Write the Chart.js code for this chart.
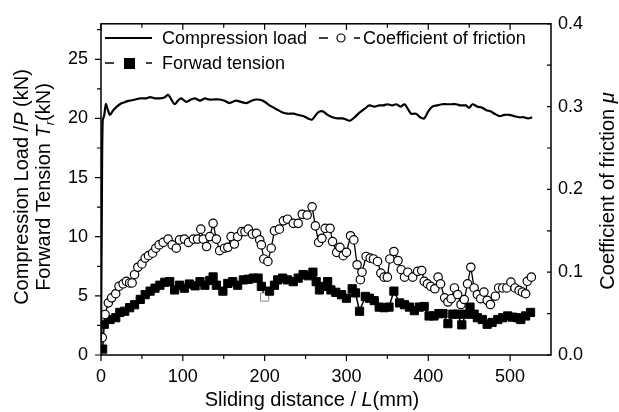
<!DOCTYPE html>
<html>
<head>
<meta charset="utf-8">
<script src="https://cdn.jsdelivr.net/npm/chart.js@4/dist/chart.umd.min.js"></script>
<style>
  body { margin: 0; background: #fff; }
  #wrap { width: 619px; height: 412px; }
</style>
</head>
<body>
<div id="wrap"><canvas id="fig"></canvas></div>
<script>
// Compression load P (kN), solid line
const loadX = [0, 1, 2, 4, 6, 8, 11, 15, 23, 30, 35, 42, 48, 55, 60, 66, 72, 78, 82, 86, 90, 94, 98, 104, 110, 115, 121, 127, 132, 137, 145, 151, 157, 165, 171, 178, 184, 190, 198, 206, 214, 222, 228, 235, 241, 247, 253, 258, 265, 271, 277, 283, 289, 295, 300, 304, 310, 316, 322, 328, 334, 340, 345, 350, 356, 361, 366, 371, 375, 379, 385, 390, 395, 400, 405, 411, 417, 423, 429, 434, 440, 446, 450, 454, 460, 466, 471, 476, 481, 487, 493, 499, 505, 511, 517, 522, 527];
const loadY = [1, 12, 19.8, 20.3, 21.2, 20.8, 20.3, 20.7, 21.2, 21.4, 21.5, 21.6, 21.7, 21.7, 21.8, 21.7, 21.7, 21.8, 22.0, 21.6, 21.2, 21.5, 21.7, 21.4, 21.6, 21.7, 21.5, 21.7, 21.6, 21.6, 21.6, 21.5, 21.3, 21.5, 21.4, 21.3, 21.5, 21.6, 21.5, 21.1, 20.8, 20.5, 20.4, 20.4, 20.3, 20.2, 20.0, 19.9, 20.5, 20.6, 20.3, 20.1, 20.0, 20.0, 19.9, 19.8, 20.1, 20.5, 20.8, 21.1, 21.0, 21.1, 21.1, 21.2, 21.1, 21.2, 21.0, 21.2, 20.8, 20.4, 20.4, 20.1, 20.0, 20.6, 21.0, 21.1, 21.2, 21.2, 21.2, 21.2, 21.1, 21.1, 20.9, 21.2, 21.0, 20.9, 20.7, 20.6, 20.4, 20.2, 20.3, 20.3, 20.2, 20.1, 20.1, 20.0, 20.1];

// Coefficient of friction mu (right axis), open circles
const frictionX = [1.6, 5, 9, 13, 18, 22, 27, 31, 35, 38, 41, 45, 50, 54, 58, 63, 67, 71, 76, 82, 87, 92, 96, 102, 107, 113, 118, 122, 125, 129, 133, 137, 141, 145, 151, 155, 159, 163, 167, 172, 176, 180, 185, 190, 194, 196, 199, 204, 208, 212, 218, 223, 228, 235, 241, 246, 252, 258, 262, 266, 270, 274, 280, 283, 288, 292, 296, 300, 305, 309, 313, 317, 319, 324, 329, 333, 338, 342, 346, 350, 353, 358, 363, 367, 371, 375, 381, 387, 392, 395, 399, 403, 408, 412, 415, 420, 424, 428, 432, 436, 440, 444, 448, 452, 456, 460, 464, 468, 472, 476, 482, 486, 491, 496, 501, 506, 511, 515, 519, 521, 526];
const frictionMu = [0.021, 0.049, 0.063, 0.069, 0.074, 0.083, 0.086, 0.089, 0.087, 0.087, 0.097, 0.106, 0.110, 0.117, 0.120, 0.123, 0.129, 0.133, 0.136, 0.140, 0.133, 0.129, 0.139, 0.140, 0.136, 0.140, 0.140, 0.152, 0.140, 0.131, 0.143, 0.159, 0.140, 0.126, 0.129, 0.130, 0.143, 0.134, 0.143, 0.149, 0.149, 0.152, 0.146, 0.147, 0.139, 0.133, 0.116, 0.113, 0.129, 0.150, 0.152, 0.162, 0.164, 0.159, 0.159, 0.170, 0.169, 0.179, 0.156, 0.136, 0.141, 0.153, 0.153, 0.137, 0.124, 0.130, 0.120, 0.124, 0.144, 0.139, 0.109, 0.091, 0.100, 0.119, 0.117, 0.116, 0.113, 0.099, 0.094, 0.094, 0.116, 0.125, 0.114, 0.103, 0.094, 0.100, 0.094, 0.101, 0.102, 0.089, 0.086, 0.083, 0.080, 0.094, 0.086, 0.069, 0.064, 0.068, 0.081, 0.073, 0.061, 0.067, 0.086, 0.106, 0.081, 0.073, 0.068, 0.076, 0.066, 0.061, 0.071, 0.081, 0.081, 0.081, 0.088, 0.081, 0.078, 0.076, 0.074, 0.089, 0.094];

// Forward tension Tr (kN), filled squares
const tensionX = [2, 4, 11, 18, 23, 29, 35, 41, 48, 54, 60, 66, 72, 78, 84, 90, 96, 102, 108, 115, 121, 127, 133, 137, 141, 149, 155, 161, 167, 174, 180, 186, 192, 196, 200, 206, 212, 216, 222, 228, 235, 241, 247, 253, 259, 263, 267, 272, 277, 281, 287, 294, 300, 307, 311, 316, 323, 328, 334, 340, 346, 352, 358, 365, 371, 377, 383, 389, 395, 401, 407, 413, 418, 424, 430, 436, 441, 446, 451, 456, 460, 466, 472, 478, 485, 491, 497, 503, 509, 513, 519, 525];
const tensionY = [0.5, 2.6, 3.0, 3.15, 3.6, 3.7, 4.0, 4.25, 4.7, 5.1, 5.4, 5.65, 5.9, 6.15, 6.2, 5.5, 5.9, 5.65, 6.0, 5.85, 6.2, 5.9, 6.3, 6.6, 5.9, 5.4, 6.05, 6.2, 5.9, 6.35, 6.4, 6.5, 6.5, 5.8, 4.9, 5.4, 5.9, 6.35, 6.5, 6.35, 6.2, 6.5, 6.8, 6.7, 7.0, 6.2, 5.5, 5.8, 6.2, 5.5, 5.3, 5.1, 4.8, 5.6, 5.25, 3.7, 4.95, 4.8, 4.6, 4.05, 4.0, 4.05, 5.4, 4.4, 4.25, 4.05, 3.75, 4.05, 4.1, 3.3, 3.3, 3.5, 3.5, 2.65, 3.45, 3.45, 2.55, 3.45, 4.05, 3.45, 3.15, 3.0, 2.6, 2.75, 3.0, 3.15, 3.3, 3.2, 3.15, 3.0, 3.3, 3.6];

const FONT = '"Liberation Sans", Arial, sans-serif';

function pts(xs, ys) {
    return xs.map((x, i) => ({ x: x, y: ys[i] }));
}

// draw a string made of plain / italic / subscript pieces, centred at (x, y)
function richText(ctx, parts, x, y, size, rot) {
    ctx.save();
    ctx.translate(x, y);
    ctx.rotate(rot);
    ctx.textBaseline = 'middle';
    ctx.textAlign = 'left';
    ctx.fillStyle = '#000';
    const fontOf = p => (p.i ? 'italic ' : '') + (p.sub ? Math.round(size * 0.65) : size) + 'px ' + FONT;
    let total = 0;
    parts.forEach(p => { ctx.font = fontOf(p); total += ctx.measureText(p.t).width; });
    let cx = -total / 2;
    parts.forEach(p => {
        ctx.font = fontOf(p);
        ctx.fillText(p.t, cx, p.sub ? size * 0.3 : 0);
        cx += ctx.measureText(p.t).width;
    });
    ctx.restore();
}

const framePlugin = {
    id: 'frame',
    afterDraw(chart) {
        const ctx = chart.ctx;
        const a = chart.chartArea;
        const sx = chart.scales.x, sy = chart.scales.y, sy2 = chart.scales.y2;
        ctx.save();
        ctx.strokeStyle = '#000';
        ctx.lineWidth = 1.5;
        ctx.strokeRect(a.left, a.top, a.right - a.left, a.bottom - a.top);
        ctx.lineWidth = 1.2;
        ctx.beginPath();
        // x ticks: out at bottom, in at top
        for (let v = 0; v <= 500; v += 50) {
            const px = sx.getPixelForValue(v);
            const len = v % 100 === 0 ? 6 : 4;
            ctx.moveTo(px, a.bottom); ctx.lineTo(px, a.bottom + len);
            ctx.moveTo(px, a.top); ctx.lineTo(px, a.top + len);
        }
        // left ticks, outward
        for (let v = 0; v <= 27.5; v += 2.5) {
            const py = sy.getPixelForValue(v);
            const len = v % 5 === 0 ? 6 : 4;
            ctx.moveTo(a.left, py); ctx.lineTo(a.left - len, py);
        }
        // right ticks, inward
        for (let k = 0; k <= 8; k++) {
            const py = sy2.getPixelForValue(k * 0.05);
            ctx.moveTo(a.right, py); ctx.lineTo(a.right - 4, py);
        }
        ctx.stroke();

        // axis titles
        richText(ctx, [{ t: 'Compression Load /' }, { t: 'P', i: true }, { t: ' (kN)' }], 22, 187, 20, -Math.PI / 2);
        richText(ctx, [{ t: 'Forward Tension ' }, { t: 'T', i: true }, { t: 'r', i: true, sub: true }, { t: '(kN)' }], 44, 187, 20, -Math.PI / 2);
        richText(ctx, [{ t: 'Coefficient of friction ' }, { t: 'μ', i: true }], 608, 191, 20, -Math.PI / 2);
        richText(ctx, [{ t: 'Sliding distance / ' }, { t: 'L', i: true }, { t: '(mm)' }], 312, 400, 20, 0);

        // legend
        ctx.font = '18px ' + FONT;
        ctx.fillStyle = '#000';
        ctx.textBaseline = 'middle';
        ctx.textAlign = 'left';
        ctx.lineWidth = 2;
        ctx.beginPath();
        ctx.moveTo(105, 38); ctx.lineTo(152, 38);
        ctx.stroke();
        ctx.fillText('Compression load', 162, 39);

        ctx.lineWidth = 1.5;
        ctx.beginPath();
        ctx.moveTo(319, 38); ctx.lineTo(328, 38);
        ctx.moveTo(354, 38); ctx.lineTo(360, 38);
        ctx.moveTo(105, 63); ctx.lineTo(114, 63);
        ctx.moveTo(146, 63); ctx.lineTo(152, 63);
        ctx.stroke();
        ctx.beginPath();
        ctx.arc(341, 38, 4, 0, Math.PI * 2);
        ctx.fillStyle = '#fff';
        ctx.fill();
        ctx.lineWidth = 1.2;
        ctx.stroke();
        ctx.fillStyle = '#000';
        ctx.fillRect(124, 58, 11, 11);
        ctx.fillText('Coefficient of friction', 363, 39);
        ctx.fillText('Forwad tension', 162, 64);
        ctx.restore();
    }
};

new Chart(document.getElementById('fig'), {
    type: 'line',
    data: {
        datasets: [
            {
                label: 'Compression load',
                data: pts(loadX, loadY),
                yAxisID: 'y',
                borderColor: '#000',
                borderWidth: 2.2,
                pointRadius: 0,
                tension: 0.3
            },
            {
                label: 'Coefficient of friction',
                data: pts(frictionX, frictionMu),
                yAxisID: 'y2',
                borderColor: '#000',
                borderWidth: 1.3,
                pointStyle: 'circle',
                pointRadius: 4.2,
                pointBorderWidth: 1.2,
                pointBorderColor: '#000',
                pointBackgroundColor: '#fff'
            },
            {
                label: 'Forwad tension',
                data: pts(tensionX, tensionY),
                yAxisID: 'y',
                borderColor: '#000',
                borderWidth: 1.5,
                pointStyle: 'rect',
                pointRadius: 5.8,
                pointBorderWidth: 1,
                pointBorderColor: c => (c.raw && c.raw.x === 200 ? '#888' : '#000'),
                pointBackgroundColor: c => (c.raw && c.raw.x === 200 ? '#fff' : '#000')
            }
        ]
    },
    options: {
        responsive: true,
        maintainAspectRatio: false,
        animation: false,
        layout: { padding: { top: 18, left: 0, right: 0, bottom: 0 } },
        plugins: { legend: { display: false }, tooltip: { enabled: false } },
        scales: {
            x: {
                type: 'linear',
                min: 0,
                max: 550,
                afterFit: s => { s.height = 57; },
                grid: { display: false, drawTicks: false },
                border: { display: false },
                ticks: { stepSize: 100, includeBounds: false, padding: 11, color: '#000', font: { family: FONT, size: 18 } }
            },
            y: {
                position: 'left',
                min: 0,
                max: 28,
                afterFit: s => { s.width = 101; },
                grid: { display: false, drawTicks: false },
                border: { display: false },
                ticks: { stepSize: 5, includeBounds: false, padding: 13, color: '#000', font: { family: FONT, size: 18 } }
            },
            y2: {
                position: 'right',
                min: 0,
                max: 0.4,
                afterFit: s => { s.width = 68; },
                grid: { display: false, drawTicks: false },
                border: { display: false },
                ticks: { stepSize: 0.1, padding: 7, color: '#000', font: { family: FONT, size: 18 }, callback: v => v.toFixed(1) }
            }
        }
    },
    plugins: [framePlugin]
});
</script>
</body>
</html>
